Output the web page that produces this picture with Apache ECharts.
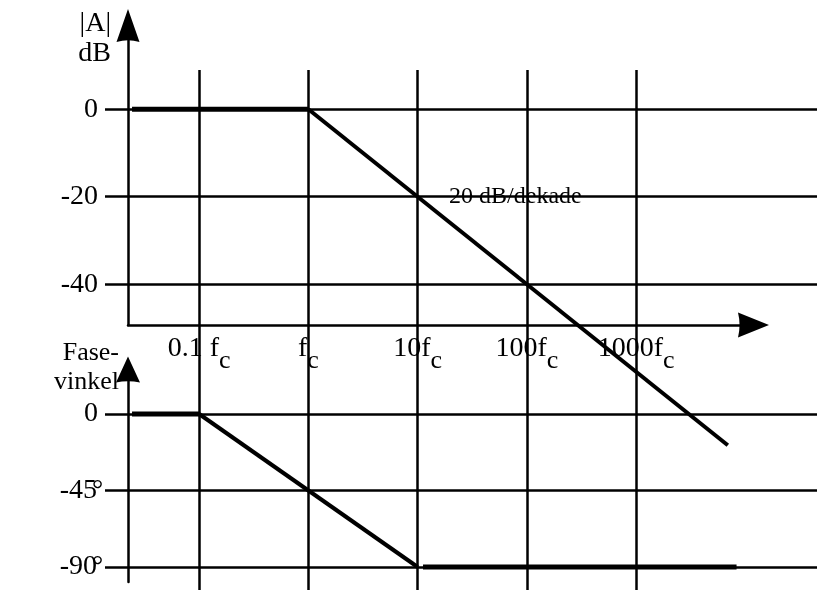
<!DOCTYPE html>
<html>
<head>
<meta charset="utf-8">
<script src="https://cdn.jsdelivr.net/npm/echarts@6/dist/echarts.min.js"></script>
<style>
  html, body { margin: 0; padding: 0; background: #ffffff; }
  #chart { width: 821px; height: 601px; }
</style>
</head>
<body>
<div id="chart"></div>
<script>
// Frequencies are ratios f/fc; the horizontal scale is in decades (log10 of the ratio).
const decadeTicks = [0.1, 1, 10, 100, 1000];
const tickLabelMain = ['0.1 f', 'f', '10f', '100f', '1000f'];
const tickLabelSub = ['c', 'c', 'c', 'c', 'c'];

// Magnitude asymptotes, |A| in dB
const magFlatFreq = [0.0243, 1];
const magFlatDb = [0, 0];
const magSlopeFreq = [1, 6900];
const magSlopeDb = [0, -76.8];

// Phase asymptotes, degrees
const phaseLowFreq = [0.0243, 0.1];
const phaseLowDeg = [0, 0];
const phaseSlopeFreq = [0.1, 10];
const phaseSlopeDeg = [0, -90];
const phaseHighFreq = [11.2, 8300];
const phaseHighDeg = [-90, -90];

// Value-axis ticks
const magTicks = [0, -20, -40];
const phaseTicks = [0, -45, -90];

// Slope annotation
const slopeNote = '20 dB/dekade';
const slopeNoteFreq = 19.4;
const slopeNoteDb = -20;

// ---- layout ----
const FONT = 'Liberation Serif';
const X0 = 308.4;        // pixel position of f = fc
const PX_PER_DEC = 109.25;
const toDec = px => (px - X0) / PX_PER_DEC;
const pairs = (fs, vs) => fs.map((f, i) => [Math.log10(f), vs[i]]);
const INK = '#000000';
const GRID_W = 2.5;

const hLeft = 105, hRight = 817;
const axLeft = 128, axRight = 753.5;

const xLabelFormatter = v => {
  const i = decadeTicks.findIndex(t => Math.abs(Math.log10(t) - v) < 1e-6);
  if (i < 0) return '';
  return '{m|' + tickLabelMain[i] + '}{s|' + tickLabelSub[i] + '}';
};

// Arrow heads (pointing up before the axis rotates them); the path keeps its aspect ratio.
const arrowHead = (w, h) =>
  'path://M' + (w / 2) + ',0L' + w + ',' + h + 'Q' + (w / 2) + ',' + (h * 0.9) + ',0,' + h + 'Z';

const hiddenAxis = { axisLine: { show: false }, axisTick: { show: false }, axisLabel: { show: false }, splitLine: { show: false } };

const option = {
  animation: false,
  backgroundColor: '#ffffff',
  grid: [
    { left: hLeft, width: hRight - hLeft, top: 109.2, height: 175 },      // magnitude
    { left: hLeft, width: hRight - hLeft, top: 414, height: 153 },        // phase
    { left: X0 - PX_PER_DEC, width: 4 * PX_PER_DEC, top: 70, height: 520 }, // decade grid lines
    { left: axLeft, width: axRight - axLeft, top: 25.5, height: 299.5 },  // magnitude axes
    { left: axLeft, width: 100, top: 369.5, height: 212.5 }               // phase axis
  ],
  xAxis: [
    Object.assign({ type: 'value', gridIndex: 0, min: toDec(hLeft), max: toDec(hRight) }, hiddenAxis),
    Object.assign({ type: 'value', gridIndex: 1, min: toDec(hLeft), max: toDec(hRight) }, hiddenAxis),
    {
      type: 'value', gridIndex: 2, min: -1, max: 3, interval: 1,
      axisLine: { show: false }, axisTick: { show: false }, axisLabel: { show: false },
      splitLine: { show: true, lineStyle: { color: INK, width: GRID_W } }
    },
    {
      type: 'value', gridIndex: 3, min: toDec(axLeft), max: toDec(axRight),
      axisLine: {
        show: true, onZero: false,
        lineStyle: { color: INK, width: GRID_W },
        symbol: ['none', arrowHead(25, 31)], symbolSize: [25, 31]
      },
      axisTick: { show: false },
      splitLine: { show: false },
      axisLabel: {
        show: true,
        customValues: decadeTicks.map(t => Math.log10(t)),
        formatter: xLabelFormatter,
        margin: 10,
        rich: {
          m: { fontFamily: FONT, fontSize: 28, color: INK, padding: [0, 0, 12, 0] },
          s: { fontFamily: FONT, fontSize: 26, color: INK, padding: [12, 0, 0, 0] }
        }
      }
    },
    Object.assign({ type: 'value', gridIndex: 4, min: 0, max: 1 }, hiddenAxis)
  ],
  yAxis: [
    {
      type: 'value', gridIndex: 0, min: -40, max: 0, interval: 20,
      axisLine: { show: false }, axisTick: { show: false },
      splitLine: { show: true, lineStyle: { color: INK, width: GRID_W } },
      axisLabel: {
        show: true, margin: 7,
        customValues: magTicks,
        fontFamily: FONT, fontSize: 28, color: INK,
        formatter: v => String(v)
      }
    },
    {
      type: 'value', gridIndex: 1, min: -90, max: 0, interval: 45,
      axisLine: { show: false }, axisTick: { show: false },
      splitLine: { show: true, lineStyle: { color: INK, width: GRID_W } },
      axisLabel: {
        show: true, margin: 7,
        customValues: phaseTicks,
        formatter: v => v === 0 ? '{n|0}' : '{n|' + v + '}{d|°}',
        rich: {
          n: { fontFamily: FONT, fontSize: 28, color: INK },
          d: { fontFamily: FONT, fontSize: 28, color: INK, width: 1, align: 'left' }
        }
      }
    },
    Object.assign({ type: 'value', gridIndex: 2, min: 0, max: 1 }, hiddenAxis),
    {
      type: 'value', gridIndex: 3, min: 0, max: 1,
      axisLine: {
        show: true, onZero: false,
        lineStyle: { color: INK, width: GRID_W },
        symbol: ['none', arrowHead(23, 33)], symbolSize: [23, 33]
      },
      axisTick: { show: false }, axisLabel: { show: false }, splitLine: { show: false },
      name: '|A|\ndB',
      nameLocation: 'end',
      nameGap: -13,
      nameTextStyle: {
        fontFamily: FONT, fontSize: 28, color: INK, lineHeight: 30,
        align: 'right', verticalAlign: 'middle', padding: [0, 17, 0, 0]
      }
    },
    {
      type: 'value', gridIndex: 4, min: 0, max: 1,
      axisLine: {
        show: true, onZero: false,
        lineStyle: { color: INK, width: GRID_W },
        symbol: ['none', arrowHead(24, 26)], symbolSize: [24, 26]
      },
      axisTick: { show: false }, axisLabel: { show: false }, splitLine: { show: false },
      name: 'Fase-\nvinkel',
      nameLocation: 'end',
      nameGap: 2,
      nameTextStyle: {
        fontFamily: FONT, fontSize: 26, color: INK, lineHeight: 29,
        align: 'right', verticalAlign: 'middle', padding: [0, 9, 0, 0]
      }
    }
  ],
  series: [
    {
      name: 'magFlat', type: 'line', xAxisIndex: 0, yAxisIndex: 0,
      data: pairs(magFlatFreq, magFlatDb), symbol: 'none', clip: false,
      lineStyle: { color: INK, width: 5 }, z: 5
    },
    {
      name: 'magSlope', type: 'line', xAxisIndex: 0, yAxisIndex: 0,
      data: pairs(magSlopeFreq, magSlopeDb), symbol: 'none', clip: false,
      lineStyle: { color: INK, width: 4 }, z: 5,
      markPoint: {
        symbol: 'circle', symbolSize: 0, silent: true,
        data: [{ coord: [Math.log10(slopeNoteFreq), slopeNoteDb] }],
        label: {
          show: true, position: 'right', distance: 0,
          formatter: slopeNote,
          fontFamily: FONT, fontSize: 24, color: INK
        }
      }
    },
    {
      name: 'phaseLow', type: 'line', xAxisIndex: 1, yAxisIndex: 1,
      data: pairs(phaseLowFreq, phaseLowDeg), symbol: 'none', clip: false,
      lineStyle: { color: INK, width: 5 }, z: 5
    },
    {
      name: 'phaseSlope', type: 'line', xAxisIndex: 1, yAxisIndex: 1,
      data: pairs(phaseSlopeFreq, phaseSlopeDeg), symbol: 'none', clip: false,
      lineStyle: { color: INK, width: 4 }, z: 5
    },
    {
      name: 'phaseHigh', type: 'line', xAxisIndex: 1, yAxisIndex: 1,
      data: pairs(phaseHighFreq, phaseHighDeg), symbol: 'none', clip: false,
      lineStyle: { color: INK, width: 5 }, z: 5
    }
  ]
};

const chart = echarts.init(document.getElementById('chart'), null, { renderer: 'canvas' });
chart.setOption(option);
</script>
</body>
</html>
